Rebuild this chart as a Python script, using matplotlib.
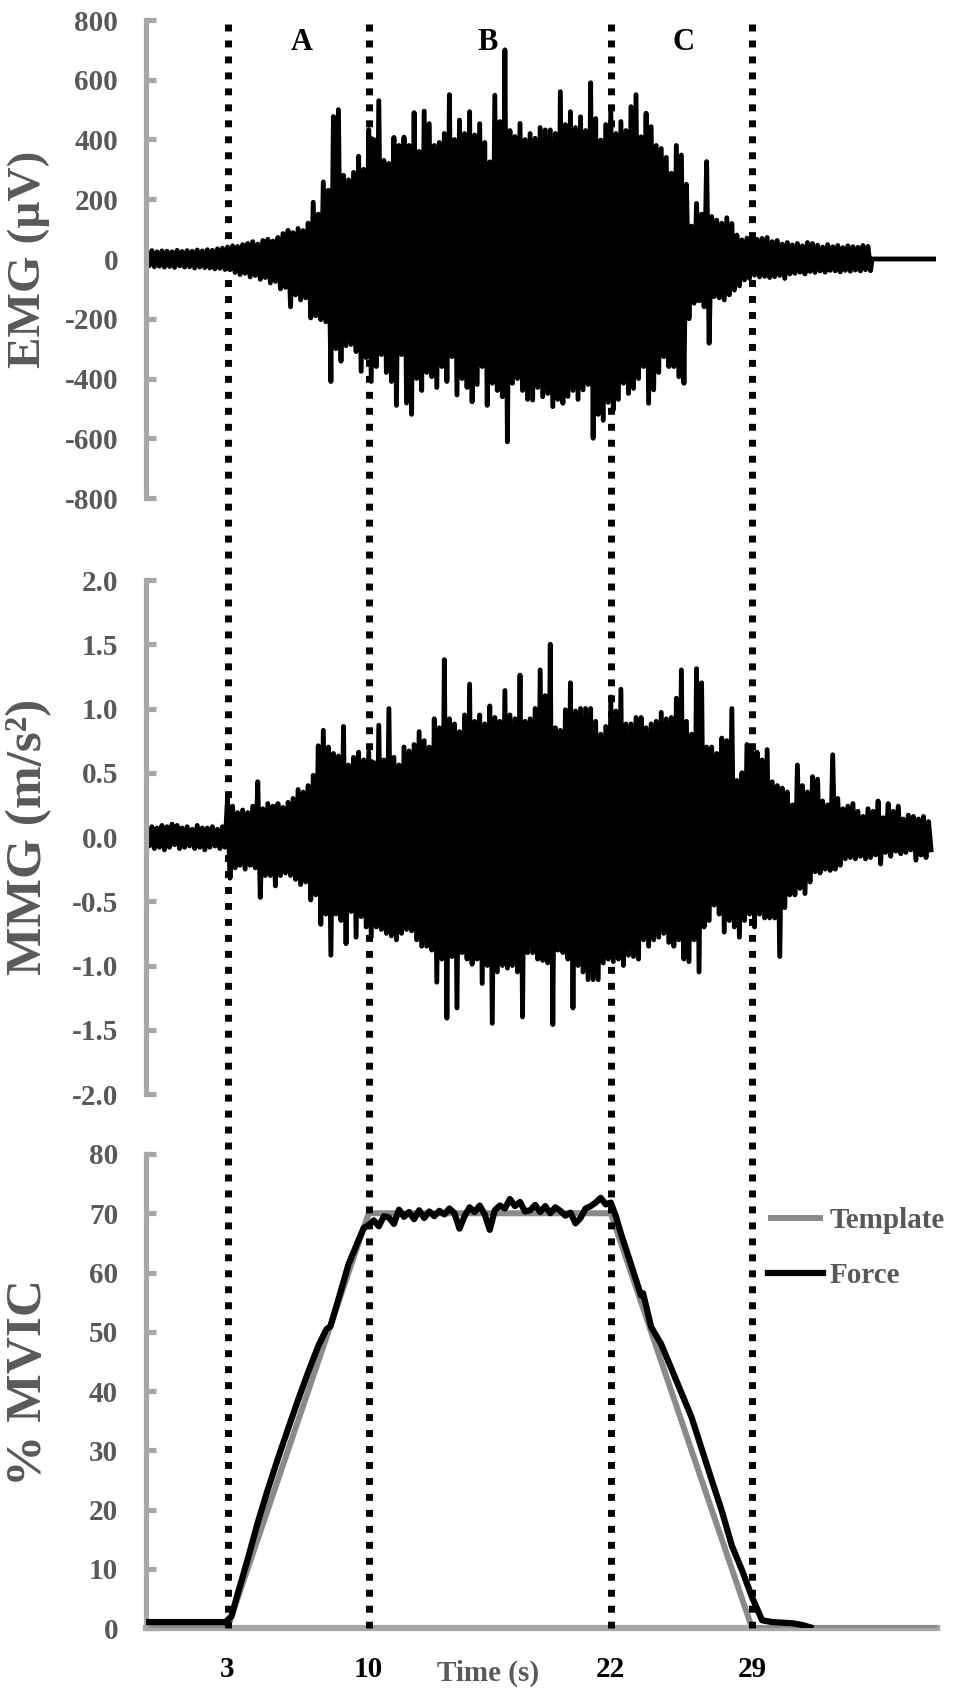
import numpy as np
import matplotlib
matplotlib.use("Agg")
import matplotlib.pyplot as plt
from matplotlib.lines import Line2D
from matplotlib.transforms import blended_transform_factory

plt.rcParams['font.family'] = ['Liberation Serif', 'DejaVu Serif']
plt.rcParams['font.weight'] = 'bold'
plt.rcParams['axes.unicode_minus'] = False

# ---------------- data ----------------
phase_bounds = [3, 10, 22, 29]
phase_names = ['A', 'B', 'C']
phase_name_x = [6.7, 15.9, 25.6]

# EMG peaks (uV), sampled every 0.25 s from t = -1.0 s
emg_t0, emg_dt = -1.0, 0.25
emg_upper = [
    25, 28, 24, 27,  26, 24, 29, 25,  28, 26, 30, 27,  31, 29, 34, 36,
    40, 44, 42, 48,  52, 58, 50, 62,  66, 60, 72, 85,  96, 88, 102, 95,
    120, 190, 150, 258,  230, 477, 500, 280,  265, 290, 344, 300,
    433, 400, 530, 330,  320, 407, 380, 408,  380, 490, 360, 495,
    453, 380, 390, 420,  550, 400, 465, 420,  493, 415, 453, 390,
    325, 548, 460, 700,  430, 410, 454, 400,  420, 404, 440, 432,
    432, 420, 560, 450,  493, 440, 476, 430,  590, 470, 398, 450,
    504, 420, 460, 430,  510, 550, 409, 488,  443, 380, 370, 340,
    287, 380, 348, 250,  110, 186, 150, 326,  142, 130, 120, 138,
    119, 80, 64, 70,  75, 66, 69, 72,  58, 62, 50, 55,
    47, 52, 44, 55,  52, 46, 40, 48,  41, 45, 38, 44,  41, 39, 45, 42,
]
emg_lower = [
    -22, -26, -24, -27,  -25, -28, -23, -27,  -26, -30, -27, -29,  -30, -33, -31, -35,
    -36, -45, -52, -48,  -60, -55, -68, -62,  -80, -75, -100, -95,  -160, -120, -137, -130,
    -197, -190, -203, -210,  -410, -300, -342, -290,  -286, -310, -376, -330,
    -410, -360, -320, -380,  -410, -490, -320, -482,  -520, -400, -440, -380,
    -394, -430, -360, -410,  -327, -455, -400, -430,  -478, -420, -360, -490,
    -416, -440, -461, -612,  -416, -400, -440, -470,  -472, -430, -461, -450,
    -494, -470, -483, -460,  -440, -470, -438, -420,  -600, -520, -540, -480,
    -505, -470, -416, -450,  -433, -400, -360, -483,  -438, -380, -327, -360,
    -360, -394, -416, -200,  -148, -140, -160, -282,  -126, -130, -137, -120,
    -104, -90, -70, -65,  -54, -60, -58, -62,  -59, -55, -65, -50,
    -48, -44, -50, -42,  -45, -40, -44, -38,  -40, -43, -38, -41,  -37, -40, -36, -39,
]
emg_tail_t = [34.95, 38.0]
emg_tail_v = [0, 0]

# MMG peaks (m/s^2), sampled every 0.25 s from t = -1.0 s
mmg_t0, mmg_dt = -1.0, 0.25
mmg_upper = [
    0.06, 0.08, 0.07, 0.09,  0.08, 0.10, 0.09, 0.07,  0.08, 0.06, 0.09, 0.07,
    0.07, 0.08, 0.06, 0.08,  0.30, 0.24, 0.19, 0.21,  0.19, 0.24, 0.43, 0.22,
    0.26, 0.24, 0.26, 0.23,  0.27, 0.30, 0.37, 0.35,  0.40, 0.48, 0.71, 0.83,
    0.70, 0.65, 0.63, 0.86,  0.56, 0.62, 0.66, 0.60,  0.66, 0.58, 0.87, 0.60,
    1.00, 0.62, 0.56, 0.70,  0.67, 0.72, 0.82, 0.75,  0.70, 0.92, 0.85, 1.38,
    0.92, 0.88, 0.82, 0.95,  1.19, 0.90, 0.95, 0.88,  1.02, 0.93, 0.90, 1.14,
    0.95, 0.92, 1.26, 0.90,  0.92, 1.00, 1.30, 1.10,  1.50, 0.85, 0.83, 0.99,
    1.20, 0.98, 1.00, 1.00,  1.00, 0.90, 0.80, 0.86,  1.09, 0.98, 1.15, 0.88,
    0.88, 0.93, 0.93, 0.85,  0.88, 0.90, 0.97, 0.92,  0.93, 1.08, 1.30, 0.90,
    0.80, 1.31, 1.20, 0.70,  0.70, 0.65, 0.77, 0.75,  1.00, 0.44, 0.50, 0.72,
    0.70, 0.66, 0.60, 0.68,  0.43, 0.40, 0.38, 0.35,  0.25, 0.56, 0.40, 0.35,
    0.47, 0.45, 0.28, 0.25,  0.64, 0.30, 0.22, 0.24,  0.26, 0.20, 0.16, 0.22,
    0.20, 0.28, 0.15, 0.26,  0.20, 0.24, 0.14, 0.17,  0.16, 0.14, 0.16, 0.12,
]
mmg_lower = [
    -0.07, -0.09, -0.08, -0.10,  -0.08, -0.06, -0.09, -0.08,  -0.07, -0.09, -0.08, -0.10,
    -0.08, -0.07, -0.09, -0.08,  -0.32, -0.24, -0.22, -0.25,  -0.22, -0.24, -0.47, -0.30,
    -0.30, -0.38, -0.30, -0.28,  -0.30, -0.33, -0.37, -0.35,  -0.49, -0.45, -0.68, -0.60,
    -0.92, -0.60, -0.65, -0.83,  -0.58, -0.78, -0.62, -0.70,  -0.78, -0.70, -0.72, -0.75,
    -0.77, -0.80, -0.75, -0.72,  -0.73, -0.80, -0.85, -0.85,  -0.88, -1.13, -0.95, -1.41,
    -0.93, -1.33, -0.90, -0.95,  -0.99, -0.95, -1.14, -1.00,  -1.45, -1.05, -1.00, -1.02,
    -1.00, -1.05, -1.40, -0.90,  -0.90, -0.95, -0.96, -0.98,  -1.46, -0.88, -0.90, -0.95,
    -1.33, -1.00, -1.05, -1.11,  -1.11, -1.11, -0.98, -0.95,  -0.97, -0.95, -1.00, -0.92,
    -0.93, -0.95, -0.80, -0.85,  -0.80, -0.78, -0.75, -0.82,  -0.85, -0.80, -0.95, -0.97,
    -0.80, -1.05, -0.70, -0.65,  -0.53, -0.60, -0.74, -0.65,  -0.70, -0.78, -0.65, -0.60,
    -0.70, -0.60, -0.63, -0.63,  -0.63, -0.93, -0.55, -0.45,  -0.45, -0.40, -0.44, -0.35,
    -0.27, -0.28, -0.25, -0.26,  -0.25, -0.22, -0.17, -0.16,  -0.17, -0.15, -0.17, -0.16,
    -0.14, -0.21, -0.12, -0.15,  -0.11, -0.13, -0.12, -0.10,  -0.18, -0.14, -0.16, -0.10,
]

# Force (% MVIC)
force_t = [-1.0, 2.9, 3.2, 3.5, 4.0, 4.5, 5.0, 5.5, 6.0, 6.5, 7.0, 7.5, 7.9, 8.1, 8.5, 9.0, 9.5, 9.75,
           10.0, 10.25, 10.5, 10.75, 11.0, 11.25, 11.5, 11.75, 12.0, 12.25, 12.5, 12.75,
           13.0, 13.25, 13.5, 13.75, 14.0, 14.25, 14.5, 14.75, 15.0, 15.25, 15.5, 15.75,
           16.0, 16.25, 16.5, 16.75, 17.0, 17.25, 17.5, 17.75, 18.0, 18.25, 18.5, 18.75,
           19.0, 19.25, 19.5, 19.75, 20.0, 20.25, 20.5, 20.75, 21.0, 21.25, 21.5, 21.75, 22.0,
           22.25, 22.5, 23.0, 23.5, 23.6, 24.0, 24.5, 25.0, 25.5, 26.0, 26.5, 27.0, 27.5,
           28.0, 28.5, 29.0, 29.5, 30.0, 31.0, 31.5, 31.9]
force_v = [1.0, 1.0, 2.0, 5.7, 11.6, 17.8, 23.4, 28.6, 33.6, 38.5, 43.2, 47.6, 50.4, 50.9, 55.5, 61.4, 65.5, 67.5,
           68.0, 68.8, 67.8, 69.5, 69.3, 68.2, 70.6, 69.4, 70.2, 69.0, 70.5, 69.2,
           70.3, 69.5, 70.4, 69.8, 70.8, 70.0, 67.4, 69.5, 71.0, 70.2, 71.3, 69.8,
           67.2, 70.5, 71.3, 70.8, 72.4, 71.2, 71.9, 70.3, 70.5, 71.4, 70.2, 71.2,
           70.0, 71.0, 70.4, 69.6, 70.1, 68.3, 69.2, 70.8, 71.2, 71.8, 72.6, 71.5, 71.8,
           69.5, 66.6, 61.4, 56.1, 56.5, 50.8, 47.9, 43.8, 39.7, 35.6, 30.3, 25.0, 19.8,
           13.9, 9.8, 5.2, 1.3, 1.0, 0.8, 0.5, 0.1]

template_t = [-1.0, 3, 10, 22, 29, 38.2]
template_v = [0, 0, 70, 70, 0, 0]

emg_ticks = [-800, -600, -400, -200, 0, 200, 400, 600, 800]
mmg_ticks = [-2.0, -1.5, -1.0, -0.5, 0.0, 0.5, 1.0, 1.5, 2.0]
force_ticks = [0, 10, 20, 30, 40, 50, 60, 70, 80]

# ---------------- styling ----------------
AX_GRAY = '#A9A6A6'
TXT_GRAY = '#595959'
TMPL_GRAY = '#8A8A8A'
XLIM = (-1.04, 38.17)
TICK_FS = 21


def zigzag(t0, dt, upper, lower):
    n = len(upper)
    t = t0 + dt * np.arange(n)
    tt = np.empty(2 * n)
    yy = np.empty(2 * n)
    tt[0::2] = t
    tt[1::2] = t + dt / 2
    yy[0::2] = upper
    yy[1::2] = lower
    return tt, yy


fig = plt.figure(figsize=(9.65, 16.94), dpi=100)
W, H = 965.0, 1694.0
left = 146 / W
width = (937 - 146) / W
ax1 = fig.add_axes([left, 1 - 498 / H, width, 478 / H])
ax2 = fig.add_axes([left, 1 - 1094 / H, width, 514 / H])
ax3 = fig.add_axes([left, 1 - 1628 / H, width, 474 / H])


def style_axis(ax, ticks, fmt, ylabel, label_fs, label_y):
    ax.set_xlim(*XLIM)
    ax.set_ylim(ticks[0], ticks[-1])
    ax.set_yticks(ticks)
    ax.set_yticklabels([fmt.format(v) for v in ticks])
    for s in ['top', 'right']:
        ax.spines[s].set_visible(False)
    ax.spines['left'].set_color(AX_GRAY)
    ax.spines['left'].set_linewidth(3.75)
    ax.tick_params(axis='y', direction='in', length=7, width=3.75, color=AX_GRAY,
                   labelsize=TICK_FS, labelcolor=TXT_GRAY, pad=20)
    for lab in ax.get_yticklabels():
        lab.set_fontweight('bold')
    ax.set_ylabel(ylabel, fontsize=label_fs, fontweight='bold', color=TXT_GRAY, va='center')
    ax.yaxis.set_label_coords((29 - 146) / (937 - 146), label_y)
    ax.set_facecolor('none')


style_axis(ax1, emg_ticks, '{:d}', 'EMG (µV)', 34, 0.5)
style_axis(ax2, mmg_ticks, '{:.1f}', 'MMG (m/s²)', 37, 0.5)
style_axis(ax3, force_ticks, '{:d}', '% MVIC', 37, 0.517)
for ax in (ax1, ax2):
    ax.spines['bottom'].set_visible(False)
    ax.set_xticks([])

# EMG
et, ev = zigzag(emg_t0, emg_dt, emg_upper, emg_lower)
et = np.concatenate([et, emg_tail_t])
ev = np.concatenate([ev, emg_tail_v])
ax1.plot(et, ev, color='black', lw=3.5, solid_joinstyle='round')
for name, x in zip(phase_names, phase_name_x):
    ax1.text(x, 726, name, ha='center', va='center', fontsize=22, fontweight='bold', color='black')

# MMG
mt, mv = zigzag(mmg_t0, mmg_dt, mmg_upper, mmg_lower)
ax2.plot(mt, mv, color='black', lw=3.5, solid_joinstyle='round')

# Force
ax3.spines['bottom'].set_color(AX_GRAY)
ax3.spines['bottom'].set_linewidth(4.5)
ax3.spines['bottom'].set_zorder(1.5)
tl, = ax3.plot(template_t, template_v, color=TMPL_GRAY, lw=4.3, label='Template', zorder=2,
               solid_capstyle='butt')
fl, = ax3.plot(force_t, force_v, color='black', lw=4.5, label='Force', zorder=3)
ax3.set_xticks(phase_bounds)
ax3.set_xticklabels([str(b) for b in phase_bounds])
ax3.tick_params(axis='x', length=0, labelsize=TICK_FS, labelcolor='black', pad=20)
for lab in ax3.get_xticklabels():
    lab.set_fontweight('bold')
ax3.set_xlabel('Time (s)', fontsize=TICK_FS, fontweight='bold', color=TXT_GRAY, va='center')
ax3.xaxis.set_label_coords((488 - 146) / (937 - 146), (1628 - 1673) / 474)

leg = ax3.legend(handles=[tl, fl], loc='center left', bbox_to_anchor=(768 / W, 1 - 1248 / H),
                 bbox_transform=fig.transFigure, frameon=False, handlelength=1.9,
                 handletextpad=0.2, labelspacing=0.95, borderpad=0, borderaxespad=0,
                 prop={'family': 'Liberation Serif', 'weight': 'bold', 'size': TICK_FS},
                 labelcolor=TXT_GRAY)

# dotted phase boundaries spanning all panels
trans = blended_transform_factory(ax3.transData, fig.transFigure)
for b in phase_bounds:
    ln = Line2D([b, b], [1 - 24 / H, 1 - 1628 / H], transform=trans, color='black', lw=5,
                linestyle=(0, (1.0, 1.3)), dash_capstyle='butt', zorder=10)
    fig.add_artist(ln)

fig.savefig('out.png', dpi=100, facecolor='white')
